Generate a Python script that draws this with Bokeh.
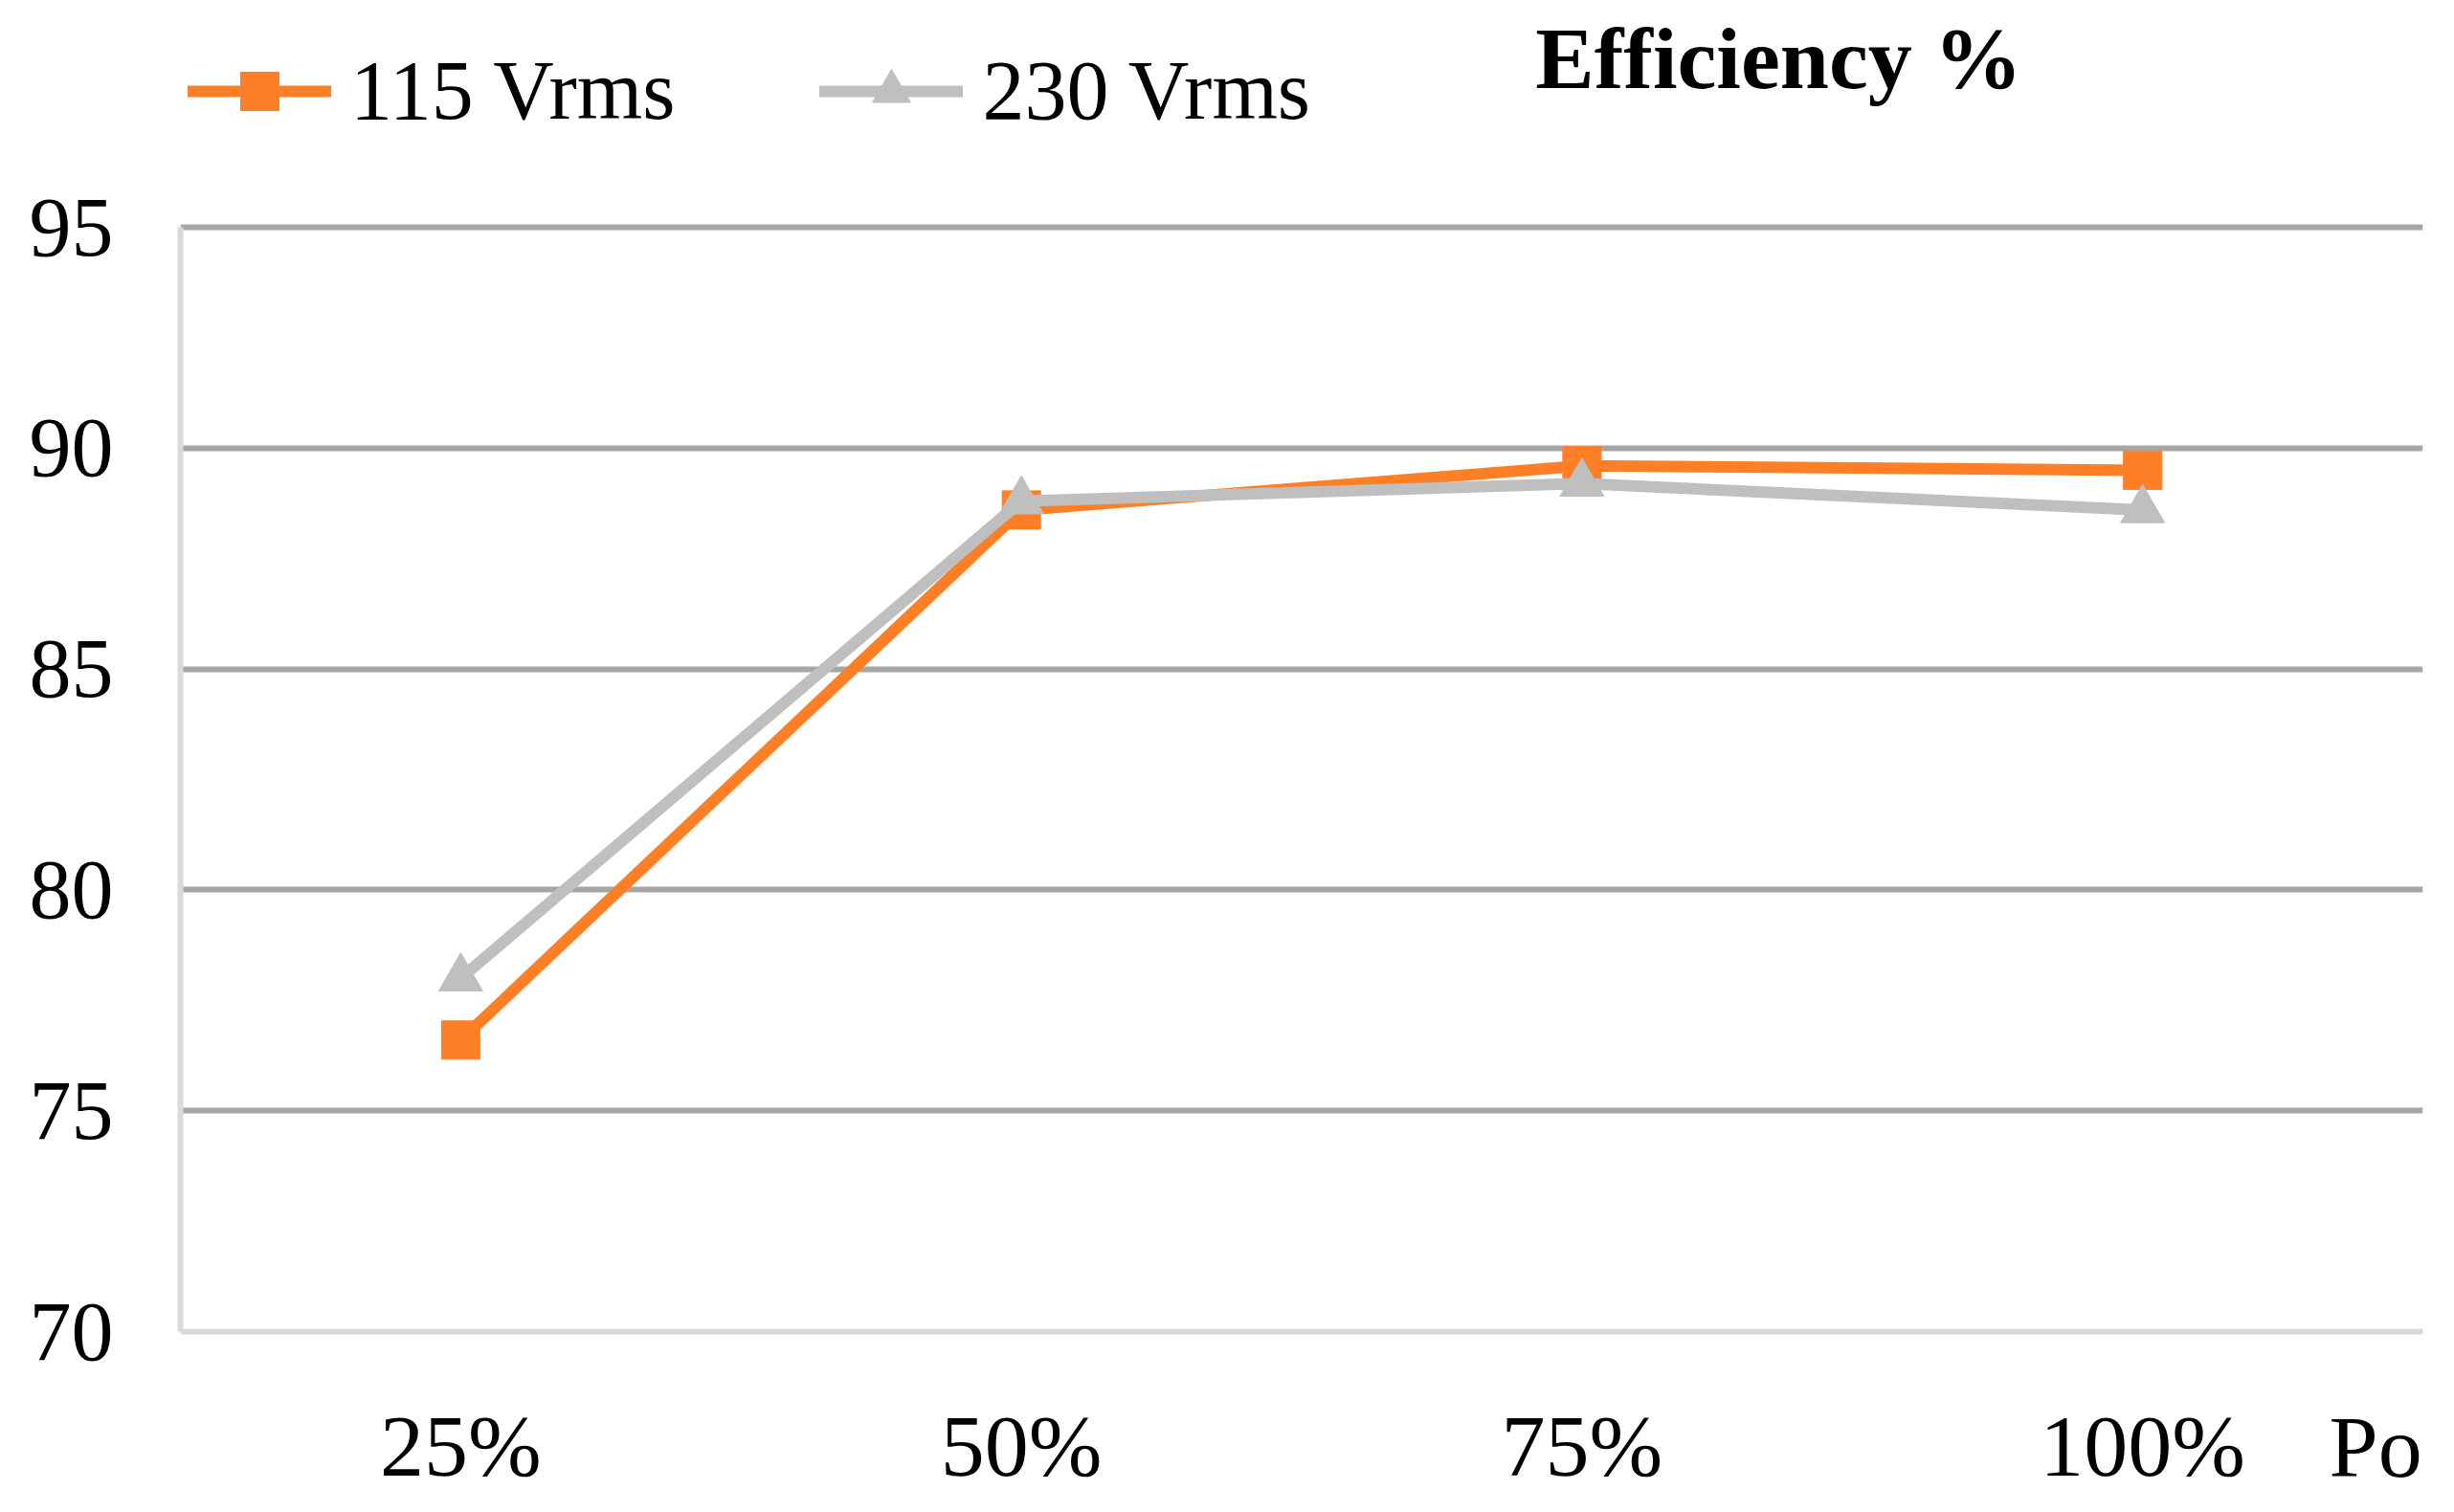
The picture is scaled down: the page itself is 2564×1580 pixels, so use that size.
from bokeh.plotting import figure
from bokeh.models import FixedTicker, Label, Legend, LegendItem
from bokeh.embed import file_html
from bokeh.resources import INLINE

categories = ["25%", "50%", "75%", "100%"]
eff_115 = [76.6, 88.6, 89.6, 89.5]
eff_230 = [78.0, 88.8, 89.2, 88.6]
y_ticks = [70, 75, 80, 85, 90, 95]
grid_ticks = [75, 80, 85, 90, 95]

ORANGE = "#FF7F27"
GREY = "#BFBFBF"
FONT = "Liberation Serif"

W, H = 2548, 1564
FRAME_LEFT, FRAME_RIGHT = 188, 2531
PX_PER_UNIT = (1391 - 237) / 25.0
CAT_PX = (FRAME_RIGHT - FRAME_LEFT) / 4.0
y_top = 95 + 237 / PX_PER_UNIT
y_bottom = 70 - (H - 1391) / PX_PER_UNIT

p = figure(width=W, height=H, x_range=categories, y_range=(y_bottom, y_top),
           output_backend="svg", toolbar_location=None,
           min_border_left=FRAME_LEFT, min_border_right=W - FRAME_RIGHT,
           min_border_top=0, min_border_bottom=0)
p.x_range.range_padding = 0
p.outline_line_color = None
p.background_fill_color = "white"
p.border_fill_color = "white"

p.xgrid.grid_line_color = None
p.ygrid.ticker = FixedTicker(ticks=grid_ticks)
p.ygrid.grid_line_color = "#A6A6A6"
p.ygrid.grid_line_width = 6

for ax in (p.xaxis[0], p.yaxis[0]):
    ax.axis_line_color = "#D9D9D9"
    ax.axis_line_width = 6
    ax.major_tick_line_color = None
    ax.minor_tick_line_color = None
    ax.major_tick_out = 0
    ax.major_tick_in = 0
    ax.major_label_text_font = FONT
    ax.major_label_text_color = "black"

p.yaxis.ticker = FixedTicker(ticks=y_ticks)
p.yaxis.bounds = (70, 95)
p.yaxis.major_label_text_font_size = "88px"
p.yaxis.major_label_standoff = 70
p.xaxis.fixed_location = 70
p.xaxis.major_label_text_font_size = "92px"
p.xaxis.major_label_standoff = 68

l1 = p.line(categories, eff_115, line_color=ORANGE, line_width=12, line_cap="round")
s1 = p.scatter(categories, eff_115, marker="square", size=40, fill_color=ORANGE, line_color=ORANGE)
l2 = p.line(categories, eff_230, line_color=GREY, line_width=12, line_cap="round")
s2 = p.scatter(categories, eff_230, marker="triangle", size=46, fill_color=GREY, line_color=GREY)

legend = Legend(items=[LegendItem(label="115 Vrms", renderers=[l1, s1]),
                       LegendItem(label="230 Vrms", renderers=[l2, s2])],
                orientation="horizontal", location=(8, H - 95 - 50),
                glyph_width=150, glyph_height=100, label_height=100,
                label_standoff=20, spacing=151, padding=0, margin=0,
                label_text_font=FONT, label_text_font_size="88px", label_text_color="black",
                background_fill_alpha=0, border_line_color=None)
p.add_layout(legend, "center")

title = Label(x=(1858 - FRAME_LEFT) / CAT_PX, y=95 + (237 - 60) / PX_PER_UNIT,
              text="Efficiency %", text_font=FONT,
              text_font_size="92px", text_font_style="bold", text_color="black",
              text_align="center", text_baseline="alphabetic")
p.add_layout(title)

po = Label(x=(2433 - FRAME_LEFT) / CAT_PX, y=95 - (1511 - 237) / PX_PER_UNIT,
           text="Po", text_font=FONT, text_font_size="92px",
           text_color="black", text_baseline="alphabetic")
p.add_layout(po)

open("out.html", "w").write(file_html(p, INLINE))
